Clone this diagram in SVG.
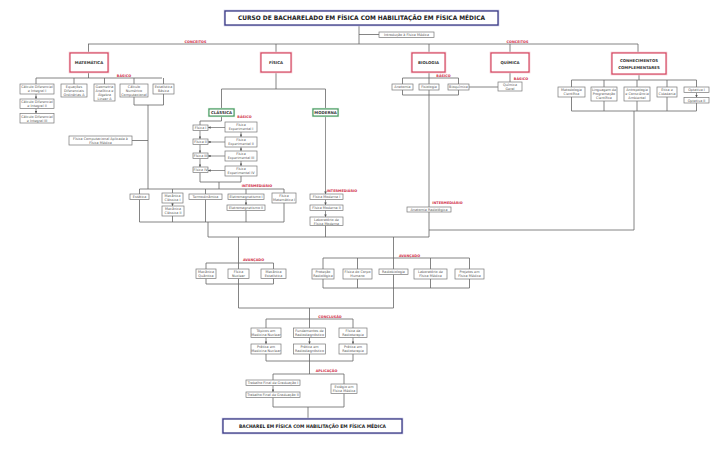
<svg xmlns="http://www.w3.org/2000/svg" width="719" height="455" viewBox="0 0 719 455">
<defs>
<marker id="ah" viewBox="0 0 6 6" refX="6" refY="3" markerWidth="2.6" markerHeight="2.6" markerUnits="userSpaceOnUse" orient="auto"><path d="M0,0 L6,3 L0,6 z" fill="#555"/></marker>
<style>
.ln{stroke:#666;stroke-width:0.8;fill:none}
.ar{stroke:#666;stroke-width:0.7;fill:none;marker-end:url(#ah)}
.bx{fill:#fff;stroke:#777;stroke-width:0.7}
.t{font-family:"DejaVu Sans",Verdana,sans-serif;font-size:3.4px;fill:#555;text-anchor:middle}
.l1h{fill:none;stroke:#f3c6cf;stroke-width:2.6}
.l1{fill:#fff;stroke:#d23c58;stroke-width:1.1}
.t1{font-family:"DejaVu Sans",Verdana,sans-serif;font-size:3.9px;font-weight:bold;fill:#333;text-anchor:middle}
.gh{fill:none;stroke:#bfe3c8;stroke-width:2.2}
.g{fill:#fff;stroke:#3a8f55;stroke-width:1}
.tt{fill:#fff;stroke:#3b3b86;stroke-width:1.3}
.tth{fill:none;stroke:#c9c9e6;stroke-width:2.6}
.ttx{font-family:"DejaVu Sans",Verdana,sans-serif;font-weight:bold;fill:#222;text-anchor:middle}
.lb{font-family:"DejaVu Sans",Verdana,sans-serif;font-size:3.4px;font-weight:bold;fill:#d0304a;text-anchor:middle}
</style>
</defs>
<rect width="719" height="455" fill="#fff"/>

<g id="connectors">
<path class="ln" d="M359 25 V44 M88 44 H638 M359 34.5 H379"/>
<path class="ln" d="M88.5 44 V53 M276 44 V53 M429 44 V53 M510 44 V53 M638 44 V53"/>
<!-- matematica -->
<path class="ln" d="M88.5 72 V78 M36 78 H162 M36 78 V84 M74 78 V84 M104.5 78 V84 M134 78 V84 M163.5 78 V84"/>
<path class="ar" d="M36 94 V99"/><path class="ar" d="M36 108.5 V113.5"/>
<path class="ln" d="M134 97 V105 H163.5 V94 M148 105 V189 M132 140.5 H148"/>
<!-- fisica -->
<path class="ln" d="M276 72 V89 M221.5 89 H325.5 M221.5 89 V109 M325.5 89 V109"/>
<path class="ln" d="M221.5 116 V121 H200 V125"/>
<path class="ar" d="M225 127.5 H208"/><path class="ar" d="M225 142 H208"/><path class="ar" d="M225 156 H208"/><path class="ar" d="M225 170.5 H208"/>
<path class="ar" d="M200 130.5 V139"/><path class="ar" d="M200 144.5 V153"/><path class="ar" d="M200 158.5 V167"/>
<path class="ar" d="M241 132 V137"/><path class="ar" d="M241 147 V151"/><path class="ar" d="M241 161 V166"/>
<path class="ln" d="M200 172.5 V182 H241 V176 M219 182 V189"/>
<path class="ln" d="M139.5 189 H284 M139.5 189 V194 M172.5 189 V193 M205.5 189 V194 M246 189 V194 M284 189 V193"/>
<path class="ar" d="M172.5 203 V206"/><path class="ar" d="M246 199.5 V205"/>
<path class="ln" d="M139.5 199.5 V222 M172.5 216 V222 M205.5 199.5 V222 M246 210.5 V222 M284 203 V222 M139.5 222 H284 M208 222 V237"/>
<!-- moderna -->
<path class="ar" d="M325.5 116 V194"/><path class="ar" d="M325.5 199.5 V205"/><path class="ar" d="M325.5 210.5 V217"/>
<path class="ln" d="M325.5 225.5 V237"/>
<!-- biologia -->
<path class="ln" d="M429 72 V78 M402.5 78 H458.5 M402.5 78 V84 M429 78 V84 M458.5 78 V84"/>
<path class="ln" d="M402.5 90 V95 H458.5 V90 M429 90 V95 M429 95 V237 M469 87 H498"/>
<!-- quimica -->
<path class="ln" d="M510 72 V82"/>
<!-- complementares -->
<path class="ln" d="M639 74 V80 M571.5 80 H696.5 M571.5 80 V87 M604 80 V87 M637 80 V87 M667 80 V87 M696.5 80 V87"/>
<path class="ar" d="M696.5 92.5 V97.5"/>
<path class="ln" d="M571.5 97 V111 M604 101 V111 M637 101 V111 M667 97 V111 M696.5 103 V111 M571.5 111 H696.5 M634 111 V230 H429"/>
<!-- lower -->
<path class="ln" d="M208 237 H429"/>
<path class="ln" d="M238.5 237 V263 M206 263 H273.5 M206 263 V269 M238.5 263 V269 M273.5 263 V269"/>
<path class="ln" d="M206 278.5 V284 M238.5 278.5 V284 M273.5 278.5 V284 M206 284 H273.5 M238.5 284 V308"/>
<path class="ln" d="M393.5 237 V258 M323 258 H469.5 M323 258 V269 M357.5 258 V269 M393.5 258 V269 M430.5 258 V269 M469.5 258 V269"/>
<path class="ln" d="M323 279 V288 M357.5 279 V288 M393.5 274.5 V288 M430.5 279 V288 M469.5 279 V288 M323 288 H469.5 M393.5 288 V308"/>
<path class="ln" d="M238.5 308 H393.5 M309.5 308 V319 M266 319 H353 M266 319 V328 M309.5 319 V328 M353 319 V328"/>
<path class="ar" d="M266 337.5 V344"/><path class="ar" d="M309.5 337.5 V344"/><path class="ar" d="M353 337.5 V344"/>
<path class="ln" d="M266 354 V361 M309.5 354 V361 M353 354 V361 M266 361 H353 M309.5 361 V374"/>
<path class="ln" d="M273 374 H344 M273 374 V380 M344 374 V384"/>
<path class="ar" d="M273 385.5 V392"/>
<path class="ln" d="M273 397.5 V407 M344 393.5 V407 M273 407 H344 M308 407 V419"/>
</g>

<g id="labels">
<text class="lb" x="195.5" y="43">CONCEITOS</text>
<text class="lb" x="517.5" y="43">CONCEITOS</text>
<text class="lb" x="124" y="77">BÁSICO</text>
<text class="lb" x="244.5" y="117.5">BÁSICO</text>
<text class="lb" x="443.5" y="77">BÁSICO</text>
<text class="lb" x="521" y="80">BÁSICO</text>
<text class="lb" x="257" y="186.5">INTERMEDIÁRIO</text>
<text class="lb" x="342" y="191.5">INTERMEDIÁRIO</text>
<text class="lb" x="447.5" y="204">INTERMEDIÁRIO</text>
<text class="lb" x="253.5" y="260.5">AVANÇADO</text>
<text class="lb" x="409.5" y="257">AVANÇADO</text>
<text class="lb" x="330" y="317.5">CONCLUSÃO</text>
<text class="lb" x="326.5" y="372">APLICAÇÃO</text>
</g>

<g id="n-title"><rect class="tth" x="225" y="11" width="273" height="14"/><rect class="tt" x="225" y="11" width="273" height="14"/><text class="ttx" x="361.5" y="20.3" font-size="6.2" textLength="247" lengthAdjust="spacingAndGlyphs">CURSO DE BACHARELADO EM FÍSICA COM HABILITAÇÃO EM FÍSICA MÉDICA</text></g>
<g id="n-intro"><rect class="bx" x="379" y="32" width="55" height="5.5"/><text class="t" x="406.5" y="36">Introdução à Física Médica</text></g>

<g id="n-mat"><rect class="l1h" x="70" y="53" width="38" height="19"/><rect class="l1" x="70" y="53" width="38" height="19"/><text class="t1" x="89" y="63.8">MATEMÁTICA</text></g>
<g id="n-fis"><rect class="l1h" x="261" y="53" width="30" height="19"/><rect class="l1" x="261" y="53" width="30" height="19"/><text class="t1" x="276" y="63.8">FÍSICA</text></g>
<g id="n-bio"><rect class="l1h" x="412" y="53" width="33" height="19"/><rect class="l1" x="412" y="53" width="33" height="19"/><text class="t1" x="428.5" y="63.8">BIOLOGIA</text></g>
<g id="n-qui"><rect class="l1h" x="491" y="53" width="38" height="19"/><rect class="l1" x="491" y="53" width="38" height="19"/><text class="t1" x="510" y="63.8">QUÍMICA</text></g>
<g id="n-cc"><rect class="l1h" x="612" y="53" width="54" height="21"/><rect class="l1" x="612" y="53" width="54" height="21"/><text class="t1" x="639" y="61.5">CONHECIMENTOS</text><text class="t1" x="639" y="68.5">COMPLEMENTARES</text></g>

<g id="n-cdi1"><rect class="bx" x="20" y="84" width="34" height="10"/><text class="t" x="37" y="88.3">Cálculo Diferencial<tspan x="37" dy="4">e Integral I</tspan></text></g>
<g id="n-cdi2"><rect class="bx" x="20" y="99" width="34" height="9.5"/><text class="t" x="37" y="103">Cálculo Diferencial<tspan x="37" dy="4">e Integral II</tspan></text></g>
<g id="n-cdi3"><rect class="bx" x="20" y="113.5" width="34" height="9.5"/><text class="t" x="37" y="117.5">Cálculo Diferencial<tspan x="37" dy="4">e Integral III</tspan></text></g>
<g id="n-edo"><rect class="bx" x="61" y="84" width="26" height="13"/><text class="t" x="74" y="87.8">Equações<tspan x="74" dy="4">Diferenciais</tspan><tspan x="74" dy="4">Ordinárias A</tspan></text></g>
<g id="n-gaal"><rect class="bx" x="94" y="84" width="21" height="17"/><text class="t" x="104.5" y="87.8">Geometria<tspan x="104.5" dy="4">Analítica e</tspan><tspan x="104.5" dy="4">Álgebra</tspan><tspan x="104.5" dy="4">Linear A</tspan></text></g>
<g id="n-cnc"><rect class="bx" x="120" y="84" width="28" height="13"/><text class="t" x="134" y="87.8">Cálculo<tspan x="134" dy="4">Numérico</tspan><tspan x="134" dy="4">Computacional</tspan></text></g>
<g id="n-est"><rect class="bx" x="153" y="84" width="21" height="10"/><text class="t" x="163.5" y="88.3">Estatística<tspan x="163.5" dy="4">Básica</tspan></text></g>
<g id="n-fca"><rect class="bx" x="69" y="136" width="63" height="9"/><text class="t" x="100.5" y="139.8">Física Computacional Aplicada à<tspan x="100.5" dy="4">Física Médica</tspan></text></g>

<g id="n-classica"><rect class="gh" x="209" y="109" width="25" height="7"/><rect class="g" x="209" y="109" width="25" height="7"/><text class="t1" x="221.5" y="113.8" font-size="3.6">CLÁSSICA</text></g>
<g id="n-moderna"><rect class="gh" x="313" y="109" width="25" height="7"/><rect class="g" x="313" y="109" width="25" height="7"/><text class="t1" x="325.5" y="113.8" font-size="3.6">MODERNA</text></g>

<g id="n-f1"><rect class="bx" x="193" y="125" width="15" height="5.5"/><text class="t" x="200.5" y="129">Física I</text></g>
<g id="n-f2"><rect class="bx" x="193" y="139" width="15" height="5.5"/><text class="t" x="200.5" y="143">Física II</text></g>
<g id="n-f3"><rect class="bx" x="193" y="153" width="15" height="5.5"/><text class="t" x="200.5" y="157">Física III</text></g>
<g id="n-f4"><rect class="bx" x="193" y="167" width="15" height="5.5"/><text class="t" x="200.5" y="171">Física IV</text></g>
<g id="n-fe1"><rect class="bx" x="225" y="122" width="32" height="10"/><text class="t" x="241" y="126.3">Física<tspan x="241" dy="4">Experimental I</tspan></text></g>
<g id="n-fe2"><rect class="bx" x="225" y="137" width="32" height="10"/><text class="t" x="241" y="141.3">Física<tspan x="241" dy="4">Experimental II</tspan></text></g>
<g id="n-fe3"><rect class="bx" x="225" y="151" width="32" height="10"/><text class="t" x="241" y="155.3">Física<tspan x="241" dy="4">Experimental III</tspan></text></g>
<g id="n-fe4"><rect class="bx" x="225" y="166" width="32" height="10"/><text class="t" x="241" y="170.3">Física<tspan x="241" dy="4">Experimental IV</tspan></text></g>

<g id="n-estatica"><rect class="bx" x="130" y="194" width="19" height="5.5"/><text class="t" x="139.5" y="198">Estática</text></g>
<g id="n-mc1"><rect class="bx" x="162" y="193" width="21" height="10"/><text class="t" x="172.5" y="197.3">Mecânica<tspan x="172.5" dy="4">Clássica I</tspan></text></g>
<g id="n-mc2"><rect class="bx" x="162" y="206" width="22" height="10"/><text class="t" x="173" y="210.3">Mecânica<tspan x="173" dy="4">Clássica II</tspan></text></g>
<g id="n-termo"><rect class="bx" x="189" y="194" width="33" height="5.5"/><text class="t" x="205.5" y="198">Termodinâmica</text></g>
<g id="n-em1"><rect class="bx" x="228" y="194" width="36" height="5.5"/><text class="t" x="246" y="198">Eletromagnetismo I</text></g>
<g id="n-em2"><rect class="bx" x="227" y="205" width="38" height="5.5"/><text class="t" x="246" y="209">Eletromagnetismo II</text></g>
<g id="n-fm1"><rect class="bx" x="272" y="193" width="24" height="10"/><text class="t" x="284" y="197.3">Física<tspan x="284" dy="4">Matemática I</tspan></text></g>

<g id="n-fmod1"><rect class="bx" x="310" y="194" width="33" height="5.5"/><text class="t" x="326.5" y="198">Física Moderna I</text></g>
<g id="n-fmod2"><rect class="bx" x="310" y="205" width="33" height="5.5"/><text class="t" x="326.5" y="209">Física Moderna II</text></g>
<g id="n-labmod"><rect class="bx" x="310" y="217" width="33" height="8.5"/><text class="t" x="326.5" y="220.6">Laboratório de<tspan x="326.5" dy="4">Física Moderna</tspan></text></g>

<g id="n-anat"><rect class="bx" x="392" y="84" width="21" height="6"/><text class="t" x="402.5" y="88.2">Anatomia</text></g>
<g id="n-fisio"><rect class="bx" x="419" y="84" width="20" height="6"/><text class="t" x="429" y="88.2">Fisiologia</text></g>
<g id="n-bioq"><rect class="bx" x="448" y="84" width="21" height="6"/><text class="t" x="458.5" y="88.2">Bioquímica</text></g>
<g id="n-anatrad"><rect class="bx" x="407" y="207" width="44" height="5"/><text class="t" x="429" y="210.7">Anatomia Radiológica</text></g>
<g id="n-qgeral"><rect class="bx" x="498" y="82" width="24" height="9"/><text class="t" x="510" y="85.8">Química<tspan x="510" dy="4">Geral</tspan></text></g>

<g id="n-metod"><rect class="bx" x="558" y="87" width="27" height="10"/><text class="t" x="571.5" y="91.3">Metodologia<tspan x="571.5" dy="4">Científica</tspan></text></g>
<g id="n-ling"><rect class="bx" x="591" y="87" width="26" height="14"/><text class="t" x="604" y="90.8">Linguagem de<tspan x="604" dy="4">Programação</tspan><tspan x="604" dy="4">Científica</tspan></text></g>
<g id="n-antro"><rect class="bx" x="624" y="87" width="26" height="14"/><text class="t" x="637" y="90.8">Antropologia<tspan x="637" dy="4">e Consciência</tspan><tspan x="637" dy="4">Ambiental</tspan></text></g>
<g id="n-etica"><rect class="bx" x="657" y="87" width="20" height="10"/><text class="t" x="667" y="91.3">Ética e<tspan x="667" dy="4">Cidadania</tspan></text></g>
<g id="n-opt1"><rect class="bx" x="684" y="87" width="25" height="5.5"/><text class="t" x="696.5" y="91">Optativa I</text></g>
<g id="n-opt2"><rect class="bx" x="684" y="97.5" width="25" height="5.5"/><text class="t" x="696.5" y="101.5">Optativa II</text></g>

<g id="n-mq"><rect class="bx" x="196" y="269" width="20" height="9.5"/><text class="t" x="206" y="273">Mecânica<tspan x="206" dy="4">Quântica</tspan></text></g>
<g id="n-fn"><rect class="bx" x="228" y="269" width="21" height="9.5"/><text class="t" x="238.5" y="273">Física<tspan x="238.5" dy="4">Nuclear</tspan></text></g>
<g id="n-me"><rect class="bx" x="261" y="269" width="25" height="9.5"/><text class="t" x="273.5" y="273">Mecânica<tspan x="273.5" dy="4">Estatística</tspan></text></g>

<g id="n-prot"><rect class="bx" x="312" y="269" width="22" height="10"/><text class="t" x="323" y="273.3">Proteção<tspan x="323" dy="4">Radiológica</tspan></text></g>
<g id="n-corpo"><rect class="bx" x="343" y="269" width="29" height="10"/><text class="t" x="357.5" y="273.3">Física do Corpo<tspan x="357.5" dy="4">Humano</tspan></text></g>
<g id="n-radiob"><rect class="bx" x="379" y="269" width="29" height="5.5"/><text class="t" x="393.5" y="273">Radiobiologia</text></g>
<g id="n-labfm"><rect class="bx" x="414" y="269" width="33" height="10"/><text class="t" x="430.5" y="273.3">Laboratório de<tspan x="430.5" dy="4">Física Médica</tspan></text></g>
<g id="n-proj"><rect class="bx" x="455" y="269" width="29" height="10"/><text class="t" x="469.5" y="273.3">Projetos em<tspan x="469.5" dy="4">Física Médica</tspan></text></g>

<g id="n-tmn"><rect class="bx" x="251" y="328" width="30" height="9.5"/><text class="t" x="266" y="332">Tópicos em<tspan x="266" dy="4">Medicina Nuclear</tspan></text></g>
<g id="n-pmn"><rect class="bx" x="251" y="344" width="30" height="10"/><text class="t" x="266" y="348.3">Prática em<tspan x="266" dy="4">Medicina Nuclear</tspan></text></g>
<g id="n-frd"><rect class="bx" x="293.5" y="328" width="32" height="9.5"/><text class="t" x="309.5" y="332">Fundamentos de<tspan x="309.5" dy="4">Radiodiagnóstico</tspan></text></g>
<g id="n-prd"><rect class="bx" x="293.5" y="344" width="32" height="10"/><text class="t" x="309.5" y="348.3">Prática em<tspan x="309.5" dy="4">Radiodiagnóstico</tspan></text></g>
<g id="n-frt"><rect class="bx" x="339" y="328" width="28" height="9.5"/><text class="t" x="353" y="332">Física da<tspan x="353" dy="4">Radioterapia</tspan></text></g>
<g id="n-prt"><rect class="bx" x="339" y="344" width="28" height="10"/><text class="t" x="353" y="348.3">Prática em<tspan x="353" dy="4">Radioterapia</tspan></text></g>

<g id="n-tfg1"><rect class="bx" x="246" y="380" width="54" height="5.5"/><text class="t" x="273" y="384">Trabalho Final de Graduação I</text></g>
<g id="n-tfg2"><rect class="bx" x="246" y="392" width="54" height="5.5"/><text class="t" x="273" y="396">Trabalho Final de Graduação II</text></g>
<g id="n-estagio"><rect class="bx" x="331" y="384" width="26" height="9.5"/><text class="t" x="344" y="388">Estágio em<tspan x="344" dy="4">Física Médica</tspan></text></g>

<g id="n-final"><rect class="tth" x="223" y="419" width="179" height="14"/><rect class="tt" x="223" y="419" width="179" height="14"/><text class="ttx" x="312.5" y="428" font-size="4.8" textLength="147" lengthAdjust="spacingAndGlyphs">BACHAREL EM FÍSICA COM HABILITAÇÃO EM FÍSICA MÉDICA</text></g>
</svg>
